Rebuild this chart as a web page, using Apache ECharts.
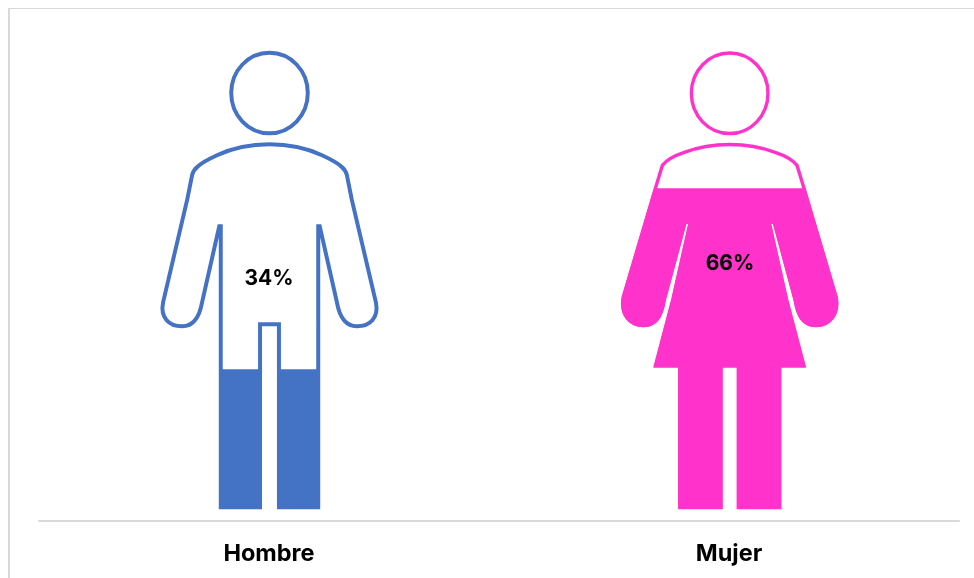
<!DOCTYPE html>
<html>
<head>
<meta charset="utf-8">
<style>html,body{margin:0;padding:0;background:#fff}#c{width:974px;height:578px}</style>
<script src="https://cdn.jsdelivr.net/npm/echarts@6/dist/echarts.min.js"></script>
</head>
<body>
<div id="c"></div>
<script>
const categories = ['Hombre', 'Mujer'];
const shareLabels = [34, 66];
const fillLevels = [30.6, 70.2];
const fullLevels = [100, 100];
const colors = ['#4472C4', '#FF33CC'];

// Icons are square (the leading zero-length segments widen the box) so strokes keep one width.
const manIcon = 'path://M40.5 92L40.5 92M497.5 92L497.5 92' +
  'M231 92.5C231 70 248.2 52 269.5 52C290.8 52 308 70 308 92.5C308 115 290.8 133 269.5 133C248.2 133 231 115 231 92.5Z' +
  'M269.5 144C250 144 232 148 216.7 155C208 159 200 163 196.7 167Q193 170 191.7 175L186.7 200L162.5 303' +
  'C159.5 318 168 327 181.7 327C193 327 199 318 201.7 303L219 226.5L220.5 226.5L220.5 509L260 509L260 325L279 325L279 509L318.5 509L318.5 226.5L320 226.5' +
  'L337.3 303C340 318 346 327 357.3 327C371 327 379.5 318 376.5 303L352.3 200L347.3 175Q346 170 342.3 167' +
  'C339 163 331 159 322.3 155C307 148 289 144 269.5 144Z';
const womanIcon = 'path://M500.5 92L500.5 92M957.5 92L957.5 92' +
  'M691.2 92.5C691.2 70 708.4 52 729.7 52C751 52 768.2 70 768.2 92.5C768.2 115 751 133 729.7 133C708.4 133 691.2 115 691.2 92.5Z' +
  'M729.7 144C712 144 697 147 684 152C672 156 666 160 662 165L655 188L622.5 298' +
  'C620 314 628 326 643 326C655 326 661 318 664 300L685 222L690 222L672.5 300L655 366.5L679.5 366.5L679.5 509L721 509L721 366.5L738.4 366.5L738.4 509L780 509L780 366.5L804.4 366.5' +
  'L786.9 300L769.4 222L774.4 222L795.4 300C798.4 318 804.4 326 816.4 326C831.4 326 839.4 314 836.9 298L804.4 188L797.4 165C793.4 160 787.4 156 775.4 152C762.4 147 747.4 144 729.7 144Z';
const icons = [manIcon, womanIcon];
const iconSide = 454.5;
const outlineWidths = [3.5, 3];
const fillBorderWidths = [3, 2.5];
const labelOffsets = [[0, -1], [1, -17]];

const chart = echarts.init(document.getElementById('c'), null, {renderer: 'canvas'});
const font = 'Inter, Lato, sans-serif';

chart.setOption({
  animation: false,
  backgroundColor: '#fff',
  graphic: [
    {type: 'line', silent: true, shape: {x1: 9, y1: 8, x2: 9, y2: 578}, style: {stroke: '#d9d9d9', lineWidth: 2}},
    {type: 'line', silent: true, shape: {x1: 8, y1: 8.5, x2: 974, y2: 8.5}, style: {stroke: '#d9d9d9', lineWidth: 1}}
  ],
  grid: {left: 39, right: 15, top: 52, bottom: 69},
  xAxis: {
    type: 'category',
    data: categories,
    offset: 12,
    axisLine: {onZero: false, lineStyle: {color: '#d9d9d9', width: 2}},
    axisTick: {show: false},
    axisLabel: {margin: 21, fontFamily: font, fontWeight: 'bold', fontSize: 23.5, color: '#000'}
  },
  yAxis: {type: 'value', min: 0, max: 100, show: false, splitLine: {show: false}},
  series: [
    {
      type: 'pictorialBar',
      name: 'Relleno',
      barWidth: 224,
      barGap: '-100%',
      symbolClip: true,
      symbolPosition: 'start',
      symbolBoundingData: 100,
      z: 2,
      data: fillLevels.map((v, i) => ({
        value: v,
        symbol: icons[i],
        symbolSize: [iconSide, iconSide],
        itemStyle: {color: colors[i], borderColor: colors[i], borderWidth: fillBorderWidths[i]}
      }))
    },
    {
      type: 'pictorialBar',
      name: 'Contorno',
      barWidth: 224,
      barGap: '-100%',
      symbolPosition: 'start',
      symbolBoundingData: 100,
      z: 3,
      data: fullLevels.map((v, i) => ({
        value: v,
        symbol: icons[i],
        symbolSize: [iconSide, iconSide],
        itemStyle: {color: 'rgba(255,255,255,0)', borderColor: colors[i], borderWidth: outlineWidths[i]},
        label: {
          show: true,
          position: 'inside',
          offset: labelOffsets[i],
          formatter: shareLabels[i] + '%',
          fontFamily: font,
          fontWeight: 'bold',
          fontSize: 21,
          color: '#000'
        }
      }))
    }
  ]
});
</script>
</body>
</html>
